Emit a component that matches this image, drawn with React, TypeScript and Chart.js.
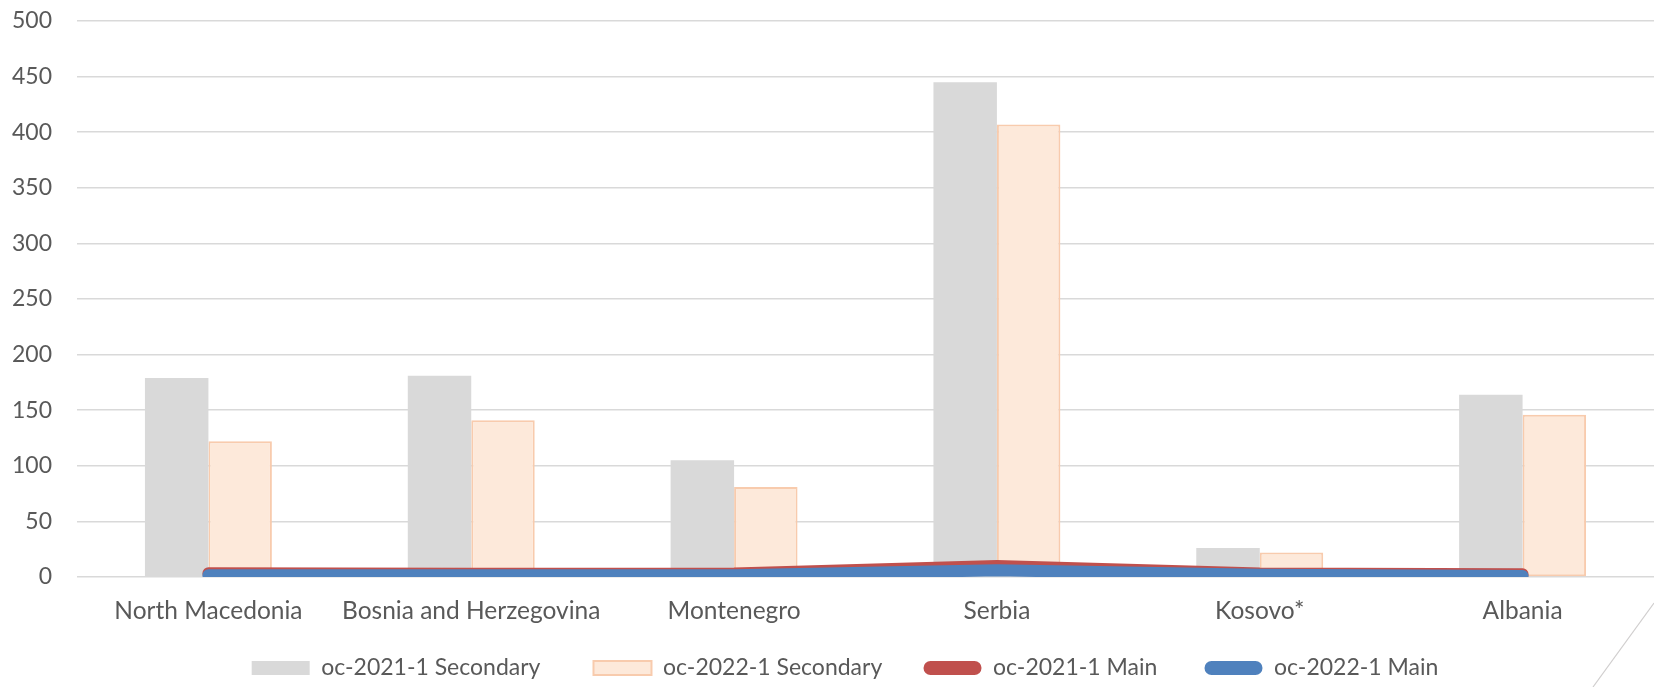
import React, { useEffect, useRef } from 'react';
import { Chart, registerables } from 'chart.js';

Chart.register(...registerables);

const categories = ['North Macedonia', 'Bosnia and Herzegovina', 'Montenegro', 'Serbia', 'Kosovo*', 'Albania'];
const seriesNames = ['oc-2021-1 Secondary', 'oc-2022-1 Secondary', 'oc-2021-1 Main', 'oc-2022-1 Main'];
const secondary2021 = [179, 181, 105, 445, 26, 164];
const secondary2022 = [122, 141, 81, 407, 22, 146];
const main2021 = [3.3, 3.0, 3.1, 9.9, 3.2, 2.4];
const main2022 = [1.5, 1.5, 1.5, 6.0, 2.0, 0.9];
const yMin = 0;
const yMax = 500;
const yStep = 50;

const FONT = 'Lato, "Noto Sans", sans-serif';
const TEXT = '#595959';
const legendGaps = ['    ', '  ', '   ', ''];

const cornerLine = {
  id: 'cornerLine',
  afterDraw(chart: any) {
    const { ctx, width, height } = chart;
    ctx.save();
    ctx.strokeStyle = '#d0cece';
    ctx.lineWidth = 1.2;
    ctx.beginPath();
    ctx.moveTo(width, height - 84);
    ctx.lineTo(width - 61, height);
    ctx.stroke();
    ctx.restore();
  },
};

const legendShift = {
  id: 'legendShift',
  afterLayout(chart: any) {
    if (chart.legend) {
      chart.legend.left += 12;
      chart.legend.right += 12;
    }
  },
};

export default function App() {
  const ref = useRef<HTMLCanvasElement | null>(null);

  useEffect(() => {
    document.body.style.margin = '0';
    const canvas = ref.current;
    if (!canvas) return;
    const colors = [
      { fill: '#d9d9d9', stroke: '#d9d9d9', lw: 0, radius: 0 },
      { fill: '#fde9da', stroke: '#f8cbad', lw: 2, radius: 0 },
      { fill: '#c0504d', stroke: '#c0504d', lw: 0, radius: 7 },
      { fill: '#4f81bd', stroke: '#4f81bd', lw: 0, radius: 7 },
    ];
    const chart = new Chart(canvas, {
      type: 'bar',
      data: {
        labels: categories,
        datasets: [
          {
            type: 'bar',
            label: seriesNames[0],
            data: secondary2021,
            backgroundColor: '#d9d9d9',
            borderWidth: 0,
            order: 2,
          },
          {
            type: 'bar',
            label: seriesNames[1],
            data: secondary2022,
            backgroundColor: '#fde9da',
            borderColor: '#f8cbad',
            borderWidth: 2,
            borderSkipped: false,
            order: 3,
          },
          {
            type: 'line',
            label: seriesNames[2],
            data: main2021,
            borderColor: '#c0504d',
            backgroundColor: '#c0504d',
            borderWidth: 12,
            borderCapStyle: 'round',
            borderJoinStyle: 'round',
            pointRadius: 0,
            tension: 0,
            fill: false,
            clip: { left: 20, top: 20, right: 20, bottom: 0 },
            order: 1,
          },
          {
            type: 'line',
            label: seriesNames[3],
            data: main2022,
            borderColor: '#4f81bd',
            backgroundColor: '#4f81bd',
            borderWidth: 12,
            borderCapStyle: 'round',
            borderJoinStyle: 'round',
            pointRadius: 0,
            tension: 0,
            fill: false,
            clip: { left: 20, top: 20, right: 20, bottom: 0 },
            order: 0,
          },
        ] as any,
      },
      options: {
        animation: false,
        responsive: true,
        maintainAspectRatio: false,
        datasets: {
          bar: { categoryPercentage: 0.483, barPercentage: 1.0 },
        },
        layout: { padding: { left: 12, top: 21, right: 0, bottom: -2.5 } },
        plugins: {
          tooltip: { enabled: false },
          legend: {
            position: 'bottom',
            labels: {
              font: { family: FONT, size: 23 },
              color: TEXT,
              boxWidth: 58,
              boxHeight: 14,
              padding: 29.5,
              generateLabels: () =>
                seriesNames.map((name, i) => ({
                  text: name + legendGaps[i],
                  fillStyle: colors[i].fill,
                  strokeStyle: colors[i].stroke,
                  lineWidth: colors[i].lw,
                  borderRadius: colors[i].radius,
                  fontColor: TEXT,
                  hidden: false,
                  datasetIndex: i,
                })) as any,
            },
          },
        },
        scales: {
          x: {
            type: 'category',
            grid: { display: false, drawTicks: false },
            border: { display: false },
            ticks: {
              font: { family: FONT, size: 24.5 },
              color: TEXT,
              padding: 19,
              maxRotation: 0,
              autoSkip: false,
            },
            afterFit: (scale: any) => {
              scale.height = 50;
            },
          },
          y: {
            min: yMin,
            max: yMax,
            grid: { color: '#d9d9d9', lineWidth: 1.5, drawTicks: false },
            border: { display: false },
            ticks: {
              stepSize: yStep,
              font: { family: FONT, size: 23 },
              color: TEXT,
              padding: 25,
            },
            afterFit: (scale: any) => {
              scale.width = 65;
              scale.paddingTop = 0;
              scale.paddingBottom = 0;
            },
          },
        },
      },
      plugins: [cornerLine, legendShift],
    } as any);
    return () => chart.destroy();
  }, []);

  return (
    <div style={{ width: '1654px', height: '687px', position: 'relative' }}>
      <canvas ref={ref} />
    </div>
  );
}
